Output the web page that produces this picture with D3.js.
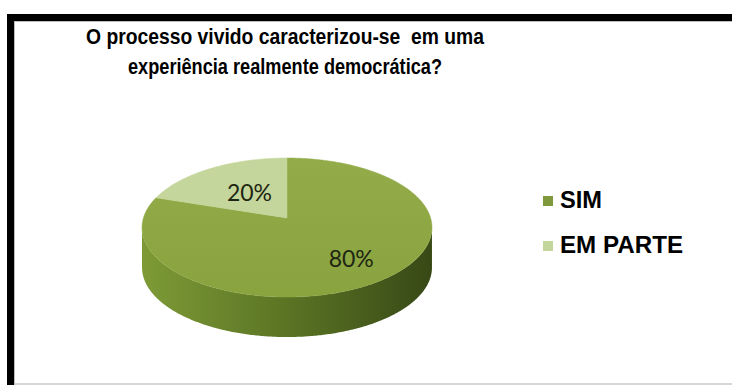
<!DOCTYPE html>
<meta charset="utf-8">
<script src="https://d3js.org/d3.v7.min.js"></script>
<style>
  body { margin: 0; background: #fff; }
  text { white-space: pre; }
</style>
<div id="chart"></div>
<script>

// chart data
const categories = ["SIM", "EM PARTE"];
const values = [80, 20];
const sliceColors = ["#8da642", "#c4d69b"];
const legendColors = ["#7f9a3c", "#c3d69b"];
const titleLines = ["O processo vivido caracterizou-se  em uma", "experiência realmente democrática?"];

const W = 732, H = 385;

const svg = d3.select("#chart")
  .append("svg")
    .attr("width", W)
    .attr("height", H);

// frame: thick black top + left, thin grey inner / bottom lines
svg.append("rect").attr("x", 7).attr("y", 14).attr("width", W - 7).attr("height", 7).attr("fill", "#000");
svg.append("rect").attr("x", 7).attr("y", 14).attr("width", 7).attr("height", H - 14).attr("fill", "#000");
svg.append("line").attr("x1", 14).attr("x2", W).attr("y1", 21.5).attr("y2", 21.5).attr("stroke", "#bdbdbd");
svg.append("line").attr("x1", 14.5).attr("x2", 14.5).attr("y1", 21).attr("y2", H).attr("stroke", "#bdbdbd");
svg.append("line").attr("x1", 14).attr("x2", W).attr("y1", 384).attr("y2", 384).attr("stroke", "#c8c8c8").attr("stroke-width", 1.5);

// title (condensed bold, squeezed to the measured line widths)
const titleWidths = [398, 314];
svg.append("g").selectAll("text")
  .data(titleLines)
  .join("text")
    .attr("x", 285)
    .attr("y", (d, i) => 44 + i * 30)
    .attr("text-anchor", "middle")
    .attr("textLength", (d, i) => titleWidths[i])
    .attr("lengthAdjust", "spacingAndGlyphs")
    .style("font-family", "'Liberation Sans', Arial, sans-serif")
    .style("font-weight", "bold")
    .style("font-size", "21.5px")
    .style("fill", "#000")
    .text(d => d);

// ---------------------------//
//        3D PIE              //
// ---------------------------//

const cx = 287, cy = 218, rx = 143.6, ry = 68.2, k = 0.137, depth = 40;

// project a point on the unit disc (angle clockwise from top, radius fraction) with a mild perspective
function project(a, r, dy) {
  const X = Math.sin(a) * r, Z = -Math.cos(a) * r;
  const w = 1 / (1 - k * Z);
  return [cx + rx * X * w, cy + ry * Z * w + (dy || 0)];
}

const pie = d3.pie().sort(null).value(d => d)(values);
const color = d3.scaleOrdinal().domain(categories).range(sliceColors);
const line = d3.line();

const defs = svg.append("defs");
const sideGrad = defs.append("linearGradient")
  .attr("id", "side")
  .attr("gradientUnits", "userSpaceOnUse")
  .attr("x1", cx - rx).attr("x2", cx + rx).attr("y1", 0).attr("y2", 0);
sideGrad.append("stop").attr("offset", 0).attr("stop-color", "#7d9a36");
sideGrad.append("stop").attr("offset", 0.5).attr("stop-color", "#5a7424");
sideGrad.append("stop").attr("offset", 1).attr("stop-color", "#384916");

const topGrad = defs.append("linearGradient")
  .attr("id", "topg")
  .attr("x1", 0).attr("x2", 0).attr("y1", 0).attr("y2", 1);
topGrad.append("stop").attr("offset", 0).attr("stop-color", "#93ac49");
topGrad.append("stop").attr("offset", 1).attr("stop-color", "#89a33f");

// side wall (front half only, between the silhouette points)
const aR = Math.acos(-k), aL = 2 * Math.PI - Math.acos(-k);
const front = d3.range(aR, aL, 0.01).concat([aL]);
const sidePts = front.map(a => project(a, 1))
  .concat(front.slice().reverse().map(a => project(a, 1, depth)));
svg.append("path")
  .attr("d", line(sidePts) + "Z")
  .attr("fill", "url(#side)");

// top faces
function slicePts(d) {
  const n = Math.max(2, Math.ceil((d.endAngle - d.startAngle) / 0.01));
  const arc = d3.range(n + 1).map(i => project(d.startAngle + (d.endAngle - d.startAngle) * i / n, 1));
  return [[cx, cy]].concat(arc);
}
svg.append("g").selectAll("path")
  .data(pie)
  .join("path")
    .attr("d", d => line(slicePts(d)) + "Z")
    .attr("fill", (d, i) => i === 0 ? "url(#topg)" : color(categories[i]))
    .attr("stroke", (d, i) => i === 0 ? "#8da642" : "#c4d69b")
    .attr("stroke-width", 0.5);

// data labels
svg.append("g").selectAll("text")
  .data(pie)
  .join("text")
    .attr("x", d => project((d.startAngle + d.endAngle) / 2, 0.6)[0] + 10)
    .attr("y", d => project((d.startAngle + d.endAngle) / 2, 0.6)[1] + 5)
    .attr("text-anchor", "middle")
    .attr("dominant-baseline", "central")
    .style("font-family", "Lato, 'Open Sans', sans-serif")
    .style("font-size", "23px")
    .style("fill", "#1e2612")
    .text(d => d.value + "%");

// ---------------------------//
//        LEGEND              //
// ---------------------------//

const legendWidths = [42, 123];
const lg = svg.append("g").selectAll("g")
  .data(categories)
  .join("g")
    .attr("transform", (d, i) => `translate(543, ${208 + i * 45})`);
lg.append("rect")
  .attr("x", 0).attr("y", -12)
  .attr("width", 10).attr("height", 10)
  .attr("fill", (d, i) => legendColors[i]);
lg.append("text")
  .attr("x", 17).attr("y", 0)
  .attr("textLength", (d, i) => legendWidths[i])
  .attr("lengthAdjust", "spacingAndGlyphs")
  .style("font-family", "'Liberation Sans', Arial, sans-serif")
  .style("font-weight", "bold")
  .style("font-size", "23px")
  .style("fill", "#000")
  .text(d => d);

</script>
